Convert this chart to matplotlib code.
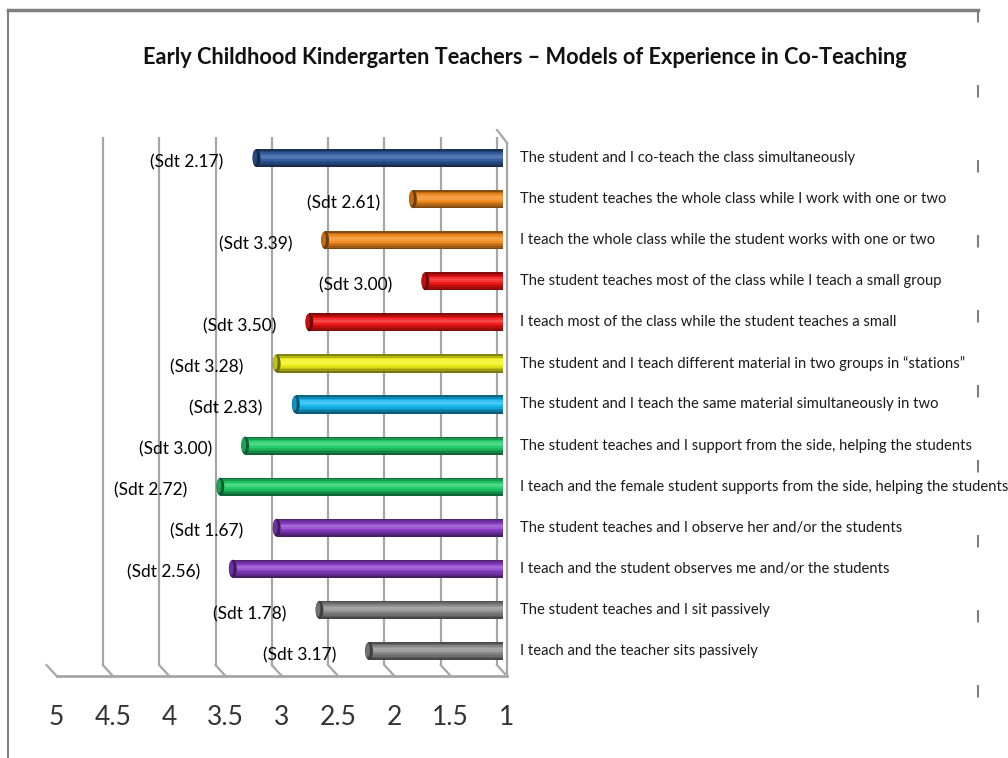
import numpy as np
import matplotlib
matplotlib.use('Agg')
import matplotlib.pyplot as plt
import matplotlib.transforms as mtransforms
from matplotlib.patches import Ellipse
from matplotlib.lines import Line2D
import matplotlib.colors as mcolors

# Datos
categories = ['The student and I co-teach the class simultaneously',
              'The student teaches the whole class while I work with one or two',
              'I teach the whole class while the student works with one or two',
              'The student teaches most of the class while I teach a small group',
              'I teach most of the class while the student teaches a small',
              'The student and I teach different material in two groups in \u201cstations\u201d',
              'The student and I teach the same material simultaneously in two',
              'The student teaches and I support from the side, helping the students',
              'I teach and the female student supports from the side, helping the students',
              'The student teaches and I observe her and/or the students',
              'I teach and the student observes me and/or the students',
              'The student teaches and I sit passively',
              'I teach and the teacher sits passively']
means = [3.19, 1.80, 2.58, 1.69, 2.72, 3.01, 2.84, 3.29, 3.51, 3.01, 3.40, 2.63, 2.19]
sdt = ['2.17', '2.61', '3.39', '3.00', '3.50', '3.28', '2.83', '3.00', '2.72', '1.67', '2.56', '1.78', '3.17']
bar_colors = ['#2F5A9E', '#F28A1E', '#F28A1E', '#F21414', '#F21414', '#F2F21A', '#14B8F0',
              '#1FCC68', '#1FCC68', '#8A3CC8', '#8A3CC8', '#8C8C8C', '#8C8C8C']
xticks = [5, 4.5, 4, 3.5, 3, 2.5, 2, 1.5, 1]

W, H = 1008, 758
fig = plt.figure(figsize=(W / 100, H / 100), dpi=100)
fig.patch.set_facecolor('white')

# ejes: 5 -> 52.6 px, 1 -> 503 px
ax = fig.add_axes([52.6 / W, 1 - 671.5 / H, (503 - 52.6) / W, 534 / H])
ax.set_xlim(5, 1)
ax.set_ylim(len(categories) - 0.5, -0.5)
ax.axis('off')

def off(dx, dy, base):
    return base + mtransforms.ScaledTranslation(dx / 100, dy / 100, fig.dpi_scale_trans)

def shade(c, v):
    c = np.array(mcolors.to_rgb(c))
    if v >= 0:
        return tuple(c + (1 - c) * v)
    return tuple(c * (1 + v))

grid_c = '#A6A6A6'
xt = ax.get_xaxis_transform()
# pared del fondo
ax.vlines(xticks, 0.012, 1.014, color=grid_c, lw=1.6, transform=off(-6, 0, xt), zorder=1)
# piso 3D
for v in xticks:
    p0 = off(-6, 0, xt).transform((v, 0.012))
    p1 = off(4, 0, xt).transform((v, -0.0084))
    ax.add_artist(Line2D([p0[0], p1[0]], [p0[1], p1[1]], color=grid_c, lw=1.6, transform=None, clip_on=False))
ax.plot([5, 1], [-0.0084, -0.0084], color=grid_c, lw=2, transform=off(4, 0, xt), clip_on=False)
ax.plot([1, 1], [-0.0084, 0.99], color=grid_c, lw=1.6, transform=off(4, 0, xt), clip_on=False)
p0 = off(-6, 0, xt).transform((1, 1.014))
p1 = off(4, 0, xt).transform((1, 0.99))
ax.add_artist(Line2D([p0[0], p1[0]], [p0[1], p1[1]], color=grid_c, lw=1.6, transform=None, clip_on=False))

# barras tipo cilindro
h = 0.44
prof = [-0.45, -0.25, -0.05, 0.12, 0.22, 0.15, 0.02, -0.1, -0.22, -0.35, -0.5]
n = len(prof)
for i, (m, c) in enumerate(zip(means, bar_colors)):
    for k, v in enumerate(prof):
        ax.barh(i - h / 2 + k * h / n, m - 1, height=h / n + 0.002, left=1, align='edge',
                color=shade(c, v), lw=0, zorder=3)
    ax.add_patch(Ellipse((m, i), 0.07, h, facecolor=shade(c, -0.55), edgecolor='none', zorder=4))
    ax.add_patch(Ellipse((m + 0.012, i - 0.02), 0.04, h * 0.8, facecolor=shade(c, -0.2), edgecolor='none', zorder=4))
    ax.text(m, i, '(Sdt ' + sdt[i] + ')', ha='right', va='center', fontsize=12.5,
            family=['Lato', 'DejaVu Sans'], color='black', transform=off(-33, -4, ax.transData), zorder=5)
    ax.text(1, i, categories[i], ha='left', va='center', fontsize=10.6,
            family=['Lato', 'DejaVu Sans'], color='#1A1A1A', transform=off(17, 0, ax.transData), zorder=5)

for v in xticks:
    ax.text(v, -0.087, '%g' % v, ha='center', va='center', fontsize=19,
            family=['Lato', 'DejaVu Sans'], color='#333333',
            transform=off(4, 0, xt))

fig.text(525 / W, 1 - 58 / H, 'Early Childhood Kindergarten Teachers \u2013 Models of Experience in Co-Teaching',
         ha='center', va='center', fontsize=15.7, fontweight='bold', family=['Lato', 'DejaVu Sans'], color='#111111')

# marco
fc = '#7F7F7F'
fig.add_artist(Line2D([8 / W, 978 / W], [1 - 10 / H, 1 - 10 / H], color=fc, lw=2.5, transform=fig.transFigure))
fig.add_artist(Line2D([8 / W, 8 / W], [1 - 10 / H, 0], color=fc, lw=1.5, transform=fig.transFigure))
fig.add_artist(Line2D([978 / W, 978 / W], [1 - 10 / H, 0], color=fc, lw=1.5, ls=(0, (6, 30)),
                      transform=fig.transFigure))

fig.savefig('out.png', dpi=100)
